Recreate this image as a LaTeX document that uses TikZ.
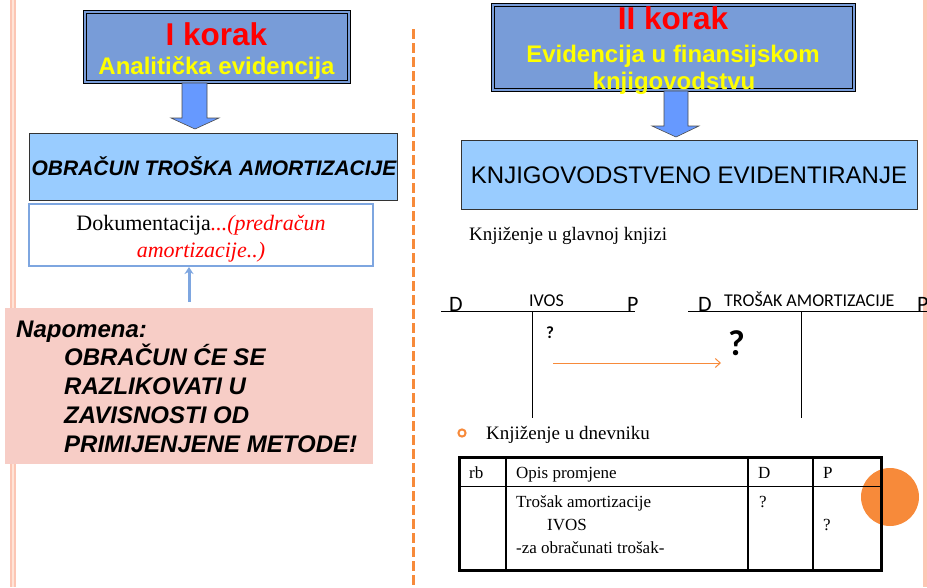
\documentclass[tikz,border=0pt]{standalone}
\usepackage{fontspec}
\usetikzlibrary{arrows.meta}
\setmainfont{Liberation Serif}
\newfontfamily\arialf{Liberation Sans}
\newfontfamily\calib{Carlito}
\definecolor{hdrblue}{RGB}{120,156,216}
\definecolor{ltblue}{RGB}{153,204,255}
\definecolor{arrblue}{RGB}{102,153,255}
\definecolor{notepink}{RGB}{247,205,198}
\definecolor{orng}{RGB}{247,138,58}
\definecolor{bandpink}{RGB}{252,198,180}
\definecolor{bandlight}{RGB}{255,228,215}
\definecolor{docblue}{RGB}{126,166,224}
\definecolor{ylw}{RGB}{255,255,0}
\definecolor{rd}{RGB}{255,0,0}
\tikzset{
  hdrbox/.style={fill=hdrblue, draw=black, line width=1pt, inner sep=0pt},
  lbbox/.style={fill=ltblue, draw=black!80, line width=0.8pt, inner sep=0pt},
  blockarrow/.style={fill=arrblue, draw=black!70, line width=0.6pt},
  hdrred/.style={anchor=base, text=rd, font=\arialf\bfseries\fontsize{31.5}{32}\selectfont, inner sep=0pt},
  hdrylw/.style={anchor=base, text=ylw, font=\arialf\bfseries\fontsize{24}{27}\selectfont, inner sep=0pt},
  notetxt/.style={anchor=base west, font=\arialf\bfseries\itshape\fontsize{24}{29}\selectfont, inner sep=0pt},
  tacc/.style={anchor=base west, font=\calib\fontsize{18}{20}\selectfont, inner sep=0pt},
  taccbig/.style={anchor=base west, font=\calib\fontsize{22}{22}\selectfont, inner sep=0pt},
  tabtxt/.style={anchor=base west, font=\fontsize{17}{19}\selectfont, inner sep=0pt},
  bodytxt/.style={anchor=base west, font=\fontsize{19}{21}\selectfont, inner sep=0pt},
}
\begin{document}
\begin{tikzpicture}[x=1pt,y=-1pt]
\useasboundingbox (0,0) rectangle (927,587);
% side bands
\fill[bandpink] (10,0) rectangle (16,587);
\fill[bandlight] (11.5,0) rectangle (14,587);
\fill[bandpink] (923,0) rectangle (927,587);
% dashed divider
\draw[orng, line width=3pt, dash pattern=on 10pt off 4pt] (413,29) -- (413,587);

% ---------- LEFT ----------
\node[hdrbox, minimum width=267pt, minimum height=73pt] (k1) at (216.5,46.5) {};
\draw[black, line width=0.8pt] (86,13) rectangle (347,80);
\node[hdrred] (k1a) at (216.5,45) {I korak};
\node[hdrylw] (k1b) at (216.5,74) {Analitička evidencija};

\draw[blockarrow] (182,83) -- (207,83) -- (207,118) -- (219,118) -- (195,129) -- (171,118) -- (182,118) -- cycle;

\node[lbbox, minimum width=368pt, minimum height=67pt] (obr) at (213,166.5) {};
\node[anchor=base, inner sep=0pt, font=\arialf\bfseries\itshape\fontsize{21}{22}\selectfont] (obrt) at (214,175) {OBRAČUN TROŠKA AMORTIZACIJE};

\node[draw=docblue, fill=white, line width=2pt, minimum width=344pt, minimum height=62pt, inner sep=0pt] (dok) at (201,235) {};
\node[anchor=base, inner sep=0pt, font=\fontsize{22}{23}\selectfont] (dok1) at (201,230) {Dokumentacija\textcolor{rd}{\itshape...(predračun}};
\node[anchor=base, inner sep=0pt, font=\fontsize{22}{23}\selectfont, text=rd] (dok2) at (201,257) {\itshape amortizacije..)};

\coordinate (upstart) at (189,302);
\draw[docblue, line width=3pt, -{Stealth[length=7pt,width=9pt]}] (upstart) -- (dok.south -| upstart);

\node[fill=notepink, minimum width=368pt, minimum height=156pt, inner sep=0pt] (note) at (189,386) {};
\node[notetxt] (n0) at (16,337) {Napomena:};
\node[notetxt] (n1) at (64,365) {OBRAČUN ĆE SE};
\node[notetxt] (n2) at (64,394) {RAZLIKOVATI U};
\node[notetxt] (n3) at (64,423) {ZAVISNOSTI OD};
\node[notetxt] (n4) at (64,452) {PRIMIJENJENE METODE!};

% ---------- RIGHT ----------
\node[hdrbox, minimum width=364pt, minimum height=88pt] (k2) at (673,47) {};
\draw[black, line width=0.8pt] (494,6) rectangle (852,88);
\node[hdrred] (k2a) at (673,29) {II korak};
\node[hdrylw] (k2b) at (673,62) {Evidencija u finansijskom};
\node[hdrylw] (k2c) at (674,89) {knjigovodstvu};

\draw[blockarrow] (664,91) -- (688,91) -- (688,126) -- (699,126) -- (676,137) -- (652,126) -- (664,126) -- cycle;

\node[lbbox, minimum width=456pt, minimum height=69pt] (knj) at (689,174.5) {};
\node[anchor=base, inner sep=0pt, font=\arialf\fontsize{24}{26}\selectfont] (knjt) at (689,183) {KNJIGOVODSTVENO EVIDENTIRANJE};

\node[bodytxt] (glk) at (469,240) {Knjiženje u glavnoj knjizi};

% T-accounts
\coordinate (t1l) at (441,311);
\coordinate (t1r) at (635,311);
\coordinate (t1t) at (532,311);
\coordinate (t1b) at (532,418);
\draw[black, line width=1pt] (t1l) -- (t1r);
\draw[black, line width=1pt] (t1t) -- (t1b);
\node[taccbig] (d1) at (449,311) {D};
\node[tacc] (iv) at (529,306) {IVOS};
\node[taccbig] (p1) at (627,311) {P};

\coordinate (t2l) at (688,311);
\coordinate (t2r) at (927,311);
\coordinate (t2t) at (801,311);
\coordinate (t2b) at (801,418);
\draw[black, line width=1pt] (t2l) -- (t2r);
\draw[black, line width=1pt] (t2t) -- (t2b);
\node[taccbig] (d2) at (698,311) {D};
\node[tacc] (tr) at (724,306) {TROŠAK AMORTIZACIJE};
\node[taccbig] (p2) at (917,311) {P};

\node[anchor=base west, inner sep=0pt, font=\calib\bfseries\fontsize{17}{18}\selectfont] (q1) at (546,338) {?};
\node[anchor=base west, inner sep=0pt, font=\calib\bfseries\fontsize{36}{36}\selectfont] (q2) at (728,355) {?};

\coordinate (oa) at (553,363);
\coordinate (ob) at (721,363);
\draw[orng, line width=1pt, -{Straight Barb[length=5pt,width=9pt]}] (oa) -- (ob);

% journal
\draw[orng, line width=2pt] (462,433) circle (3.6pt);
\node[bodytxt] (dnv) at (486,439) {Knjiženje u dnevniku};

\fill[orng] (890,497) circle (29pt);

\coordinate (tb1) at (459,457);
\coordinate (tb2) at (881,570);
\draw[black, line width=1pt] (459,486) -- (881,486);
\draw[black, line width=1.3pt] (506,457) -- (506,570);
\draw[black, line width=1.3pt] (748,457) -- (748,570);
\draw[black, line width=1.3pt] (813,457) -- (813,570);
\draw[black, line width=3pt] (tb1) rectangle (tb2);

\node[tabtxt] (c1) at (469,478) {rb};
\node[tabtxt] (c2) at (516,478) {Opis promjene};
\node[tabtxt] (c3) at (758,478) {D};
\node[tabtxt] (c4) at (823,478) {P};
\node[tabtxt] (r1) at (516,507) {Trošak amortizacije};
\node[tabtxt] (r2) at (547,530) {IVOS};
\node[tabtxt] (r3) at (516,553) {-za obračunati trošak-};
\node[tabtxt] (r4) at (759,507) {?};
\node[tabtxt] (r5) at (823,530) {?};
\end{tikzpicture}
\end{document}
